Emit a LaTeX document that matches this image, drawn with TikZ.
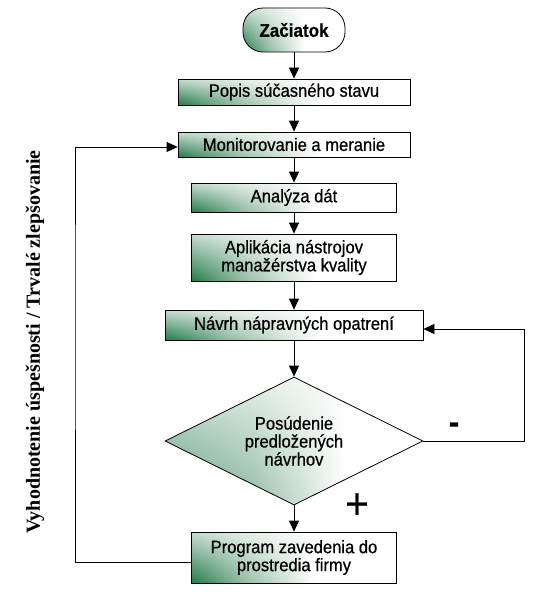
\documentclass[tikz,border=0pt]{standalone}
\usepackage{fontspec}
\usetikzlibrary{shapes.geometric,arrows.meta,fadings}
\newfontfamily\boxfont[FakeStretch=0.92,FakeBold=0.6]{Liberation Sans}
\newfontfamily\vfont{Liberation Serif}
\definecolor{dkg}{RGB}{34,122,74}
\definecolor{midg}{RGB}{150,190,165}
\pgfdeclarehorizontalshading{gshade}{100bp}{color(0bp)=(dkg); color(25bp)=(dkg); color(38bp)=(midg); color(55bp)=(white); color(100bp)=(white)}
\pgfdeclarehorizontalshading{dshade}{100bp}{color(0bp)=(dkg!75!white); color(25bp)=(dkg!75!white); color(42bp)=(midg); color(60bp)=(white); color(100bp)=(white)}
\tikzfading[name=gfade, bottom color=transparent!100, top color=transparent!25]
\begin{document}
\begin{tikzpicture}[x=1pt,y=-1pt,
  gfill/.style={path picture={
     \shade[shading=#1] (path picture bounding box.south west) rectangle (path picture bounding box.north east);
     \fill[white, path fading=gfade] (path picture bounding box.south west) rectangle (path picture bounding box.north east);}},
  box/.style={draw=black, line width=0.8pt, inner sep=0pt, align=center,
     font=\boxfont\fontsize{18}{18}\selectfont, gfill=gshade},
  arr/.style={line width=0.8pt, -{Triangle[length=11pt,width=10pt]}},
  ln/.style={line width=0.8pt}]
\useasboundingbox (0,0) rectangle (541,602);
\node[box, rounded corners=20pt, minimum width=102pt, minimum height=44pt,
      font=\boxfont\bfseries\fontsize{18.5}{18.5}\selectfont] (start) at (294,30) {Začiatok};
\node[box, minimum width=232pt, minimum height=26pt] (popis) at (294,92) {Popis súčasného stavu};
\node[box, minimum width=232pt, minimum height=25pt] (monit) at (294,144.5) {Monitorovanie a meranie};
\node[box, minimum width=205pt, minimum height=29pt] (anal) at (294,197.5) {Analýza dát};
\node[box, minimum width=205pt, minimum height=47pt] (aplik) at (294,257.5) {Aplikácia nástrojov\\manažérstva kvality};
\node[box, minimum width=258pt, minimum height=30pt] (navrh) at (294,325) {Návrh nápravných opatrení};
\node[box, diamond, aspect=2, minimum width=258pt, minimum height=128pt, gfill=dshade] (posud) at (294,441)
     {Posúdenie\\predložených\\návrhov};
\node[box, minimum width=205pt, minimum height=51pt] (prog) at (294,557.5) {Program zavedenia do\\prostredia firmy};

\node[font=\vfont\bfseries\fontsize{20}{20}\selectfont, rotate=90] (vt) at (35,342)
     {Vyhodnotenie úspešnosti / Trvalé zlepšovanie};
\node[font=\boxfont\bfseries\fontsize{34}{34}\selectfont] (minus) at (454,428) {-};
\node[font=\boxfont\fontsize{44}{44}\selectfont] (plus) at (357,506) {+};

\coordinate (rc) at (524,441);
\coordinate (lc) at (75,300);

\draw[arr] (start) -- (popis);
\draw[arr] (popis) -- (monit);
\draw[arr] (monit) -- (anal);
\draw[arr] (anal) -- (aplik);
\draw[arr] (aplik) -- (navrh);
\draw[arr] (navrh) -- (posud);
\draw[arr] (posud) -- (prog);
\draw[arr] (posud.east) -- (rc) |- ([yshift=-4pt]navrh.east);
\draw[arr] ([yshift=-5pt]prog.west) -| (lc) |- ([yshift=-2.5pt]monit.west);
\end{tikzpicture}
\end{document}
